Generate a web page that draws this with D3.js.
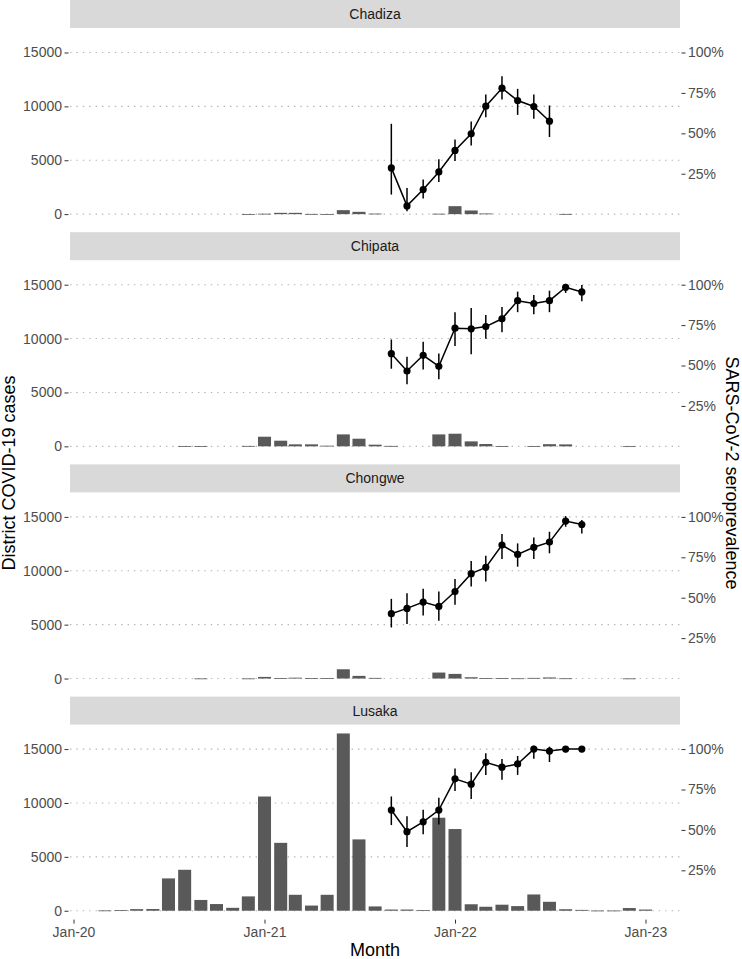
<!DOCTYPE html>
<html>
<head>
<meta charset="utf-8">
<script src="https://cdn.jsdelivr.net/npm/d3@7"></script>
<style>
  body { margin: 0; background: #fff; }
  text { font-family: "Liberation Sans", Arial, sans-serif; }
</style>
</head>
<body>
<svg id="canvas"></svg>
<script>
// monthly case counts, Mar-20 .. Jan-23
const caseMonths = ["2020-03","2020-04","2020-05","2020-06","2020-07","2020-08","2020-09","2020-10","2020-11","2020-12",
  "2021-01","2021-02","2021-03","2021-04","2021-05","2021-06","2021-07","2021-08","2021-09","2021-10","2021-11","2021-12",
  "2022-01","2022-02","2022-03","2022-04","2022-05","2022-06","2022-07","2022-08","2022-09","2022-10","2022-11","2022-12",
  "2023-01"]

const districts = ["Chadiza", "Chipata", "Chongwe", "Lusaka"]

const chadizaCases = [0,0,0,0,0,0,0,0,0,10, 40,120,120,20,10,370,215,50,0,0,0, 40,740,340,60,0,0,0,0,20,0,0,0,0,0]
const chipataCases = [0,0,0,0,0,30,30,0,0,40, 893,523,185,185,60,1108,708,154,40,0,0, 1108,1170,460,215,20,0,20,200,180,0,0,0,10,0]
const chongweCases = [0,0,0,0,0,0,10,0,0,10, 150,40,80,40,40,860,246,60,0,0,0, 554,430,120,50,40,20,60,100,20,0,0,0,10,0]
const lusakaCases = [30,60,150,160,3000,3800,1000,620,270,1330, 10600,6300,1480,480,1480,16450,6620,400,110,110,60,
  8630,7580,600,370,560,430,1510,830,140,80,20,20,250,110]

// seroprevalence (%), Sep-21 .. Sep-22
const seroMonths = ["2021-09","2021-10","2021-11","2021-12","2022-01","2022-02","2022-03","2022-04","2022-05","2022-06",
  "2022-07","2022-08","2022-09"]

const chadizaSero = [28.6, 5.1, 15.2, 26.1, 39.4, 49.7, 66.8, 77.9, 70.3, 66.6, 57.5]
const chadizaLo   = [12.1, 1.8, 9.7, 19.9, 32.9, 42.5, 60.0, 70.9, 61.4, 59.0, 47.7]
const chadizaHi   = [55.9, 16.2, 21.4, 33.9, 46.2, 57.3, 74.0, 85.3, 77.5, 74.0, 67.2]

const chipataSero = [57.3, 46.6, 56.3, 49.5, 73.1, 72.7, 74.1, 78.9, 90.1, 88.3, 90.1, 98.4, 95.5]
const chipataLo   = [48.0, 38.4, 47.6, 41.5, 62.0, 56.9, 66.5, 70.6, 83.0, 81.7, 83.0, 94.9, 89.7]
const chipataHi   = [66.1, 55.4, 64.7, 57.5, 83.0, 85.6, 81.3, 86.2, 95.7, 93.6, 96.3, 100.5, 99.8]

const chongweSero = [40.1, 43.4, 47.3, 44.6, 53.8, 64.9, 68.8, 82.6, 76.8, 81.2, 84.4, 97.4, 95.3]
const chongweLo   = [31.6, 33.7, 39.0, 35.8, 45.6, 56.9, 60.0, 74.0, 69.2, 74.0, 77.5, 93.9, 89.8]
const chongweHi   = [49.3, 52.8, 55.5, 53.8, 61.6, 72.7, 76.0, 89.4, 83.6, 87.3, 90.8, 100.5, 98.0]

const lusakaSero = [62.3, 48.9, 55.0, 62.3, 81.6, 78.3, 91.8, 88.8, 90.8, 100.0, 98.8, 100.0, 100.0]
const lusakaLo   = [53.0, 39.4, 47.3, 53.4, 74.0, 69.2, 84.0, 81.0, 84.0, 94.0, 92.0, 98.0, 99.0]
const lusakaHi   = [70.7, 58.4, 62.5, 69.9, 88.0, 85.7, 97.4, 93.9, 95.7, 102.0, 101.5, 100.8, 100.8]

const caseTicks = [0, 5000, 10000, 15000]
const seroTicks = [25, 50, 75, 100]
const xTicks = ["2020-01", "2021-01", "2022-01", "2023-01"]

const width = 742
const height = 959
const left = 70
const right = 680
const stripH = 28
const panelStep = 232.2
const panelH = 195
const pctToCases = 150   // 100% sits on 15000

let parseMonth = d3.timeParse('%Y-%m')

let casesBy = {Chadiza: chadizaCases, Chipata: chipataCases, Chongwe: chongweCases, Lusaka: lusakaCases}
let seroBy = {
  Chadiza: [chadizaSero, chadizaLo, chadizaHi],
  Chipata: [chipataSero, chipataLo, chipataHi],
  Chongwe: [chongweSero, chongweLo, chongweHi],
  Lusaka: [lusakaSero, lusakaLo, lusakaHi]
}

let svg = d3.select('#canvas').attr('width', width).attr('height', height)

let xScale = d3.scaleTime()
  .domain([parseMonth('2020-01'), parseMonth('2023-01')])
  .range([73.5, 645.5])

// shared y across facets, ggplot-style 5% expansion
let maxCases = d3.max(districts, d => d3.max(casesBy[d]))
let pad = maxCases * 0.05

districts.forEach((name, i) => {
  let top = i * panelStep
  let pTop = top + stripH
  let pBottom = pTop + panelH

  let yScale = d3.scaleLinear()
    .domain([-pad, maxCases + pad])
    .range([pBottom, pTop])

  let g = svg.append('g')

  // strip
  g.append('rect')
    .attr('x', left).attr('y', top)
    .attr('width', right - left).attr('height', stripH)
    .attr('fill', '#d9d9d9')
  g.append('text')
    .attr('x', (left + right) / 2).attr('y', top + stripH / 2)
    .attr('text-anchor', 'middle').attr('dominant-baseline', 'central')
    .attr('font-size', 14).attr('fill', '#1a1a1a')
    .text(name)

  // grid
  g.selectAll('.grid')
    .data(caseTicks)
    .enter()
    .append('line')
    .attr('x1', left).attr('x2', right)
    .attr('y1', d => yScale(d)).attr('y2', d => yScale(d))
    .attr('stroke', '#b3b3b3')
    .attr('stroke-width', 1.1)
    .attr('stroke-dasharray', '1.4,5')

  // bars
  let barW = 13
  let bars = caseMonths.map((m, j) => ({date: parseMonth(m), value: casesBy[name][j]}))
  g.selectAll('.bar')
    .data(bars.filter(d => d.value > 0))
    .enter()
    .append('rect')
    .attr('x', d => xScale(d.date) - barW / 2)
    .attr('width', barW)
    .attr('y', d => yScale(d.value))
    .attr('height', d => Math.max(0.8, yScale(0) - yScale(d.value)))
    .attr('fill', '#595959')

  // seroprevalence
  let [est, lo, hi] = seroBy[name]
  let pts = est.map((v, j) => ({date: parseMonth(seroMonths[j]), v: v, lo: lo[j], hi: hi[j]}))

  g.selectAll('.err')
    .data(pts)
    .enter()
    .append('line')
    .attr('x1', d => xScale(d.date)).attr('x2', d => xScale(d.date))
    .attr('y1', d => yScale(d.lo * pctToCases))
    .attr('y2', d => yScale(d.hi * pctToCases))
    .attr('stroke', '#000').attr('stroke-width', 1.5)

  let line = d3.line()
    .x(d => xScale(d.date))
    .y(d => yScale(d.v * pctToCases))
  g.append('path')
    .datum(pts)
    .attr('d', line)
    .attr('fill', 'none')
    .attr('stroke', '#000')
    .attr('stroke-width', 1.5)

  g.selectAll('.pt')
    .data(pts)
    .enter()
    .append('circle')
    .attr('cx', d => xScale(d.date))
    .attr('cy', d => yScale(d.v * pctToCases))
    .attr('r', 3.6)
    .attr('fill', '#000')

  // left axis
  let yAxis = d3.axisLeft(yScale).tickValues(caseTicks).tickFormat(d3.format('d'))
    .tickSize(4).tickPadding(2.5)
  let ga = g.append('g')
    .attr('transform', 'translate(' + (left - 1.5) + ',0)')
    .call(yAxis)
  ga.select('.domain').remove()

  // right axis (percent)
  let yAxisR = d3.axisRight(yScale)
    .tickValues(seroTicks.map(p => p * pctToCases))
    .tickFormat(v => Math.round(v / pctToCases) + '%')
    .tickSize(4).tickPadding(2.5)
  let gr = g.append('g')
    .attr('transform', 'translate(' + (right + 1.5) + ',0)')
    .call(yAxisR)
  gr.select('.domain').remove()

  ;[ga, gr].forEach(a => {
    a.selectAll('.tick line').attr('stroke', '#333')
    a.selectAll('.tick text').attr('font-size', 14).attr('fill', '#4d4d4d')
      .attr('font-family', '"Liberation Sans", Arial, sans-serif')
  })

  // bottom axis only on last facet
  if (i === districts.length - 1) {
    let xAxis = d3.axisBottom(xScale)
      .tickValues(xTicks.map(parseMonth))
      .tickFormat(d3.timeFormat('%b-%y'))
      .tickSize(4).tickPadding(3)
    let gx = g.append('g')
      .attr('transform', 'translate(0,' + pBottom + ')')
      .call(xAxis)
    gx.select('.domain').remove()
    gx.selectAll('.tick line').attr('stroke', '#333')
    gx.selectAll('.tick text').attr('font-size', 14).attr('fill', '#4d4d4d')
      .attr('font-family', '"Liberation Sans", Arial, sans-serif')
  }
})

// titles
svg.append('text')
  .attr('x', (left + right) / 2).attr('y', 956)
  .attr('text-anchor', 'middle').attr('font-size', 18)
  .text('Month')

svg.append('text')
  .attr('transform', 'translate(15,473) rotate(-90)')
  .attr('text-anchor', 'middle').attr('font-size', 18)
  .text('District COVID-19 cases')

svg.append('text')
  .attr('transform', 'translate(726,473) rotate(90)')
  .attr('text-anchor', 'middle').attr('font-size', 18)
  .text('SARS-CoV-2 seroprevalence')
</script>
</body>
</html>
